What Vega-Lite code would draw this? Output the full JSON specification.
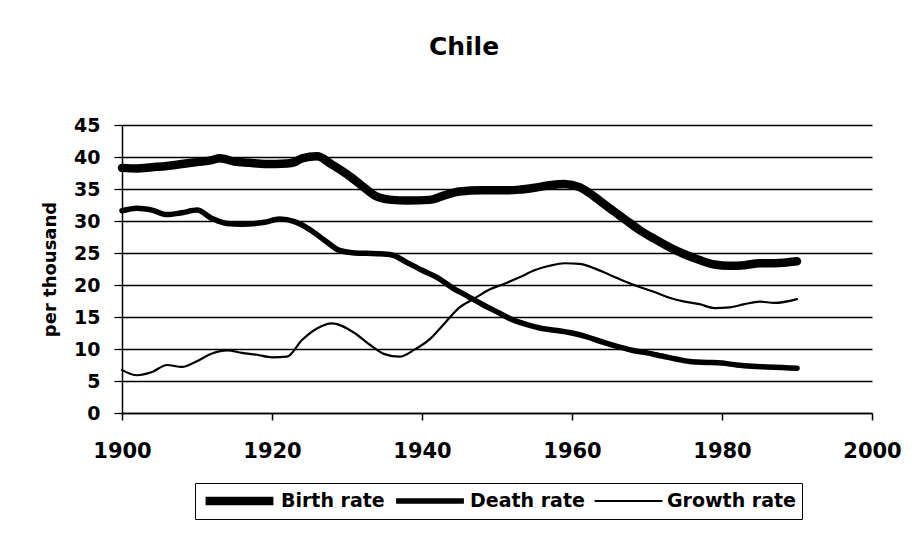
{
  "$schema": "https://vega.github.io/schema/vega-lite/v6.json",
  "width": 750,
  "height": 288,
  "autosize": {"type": "none"},
  "padding": {"left": 122, "top": 125, "right": 43, "bottom": 120},
  "background": "white",
  "title": {
    "text": "Chile",
    "font": "DejaVu Sans",
    "fontSize": 25,
    "fontWeight": "bold",
    "color": "black",
    "anchor": "middle",
    "dx": -33,
    "offset": 56
  },
  "config": {
    "view": {"stroke": null},
    "font": "DejaVu Sans"
  },
  "data": {
    "values": [
      {"year": 1900, "series": "Birth rate", "rate": 38.3},
      {"year": 1902, "series": "Birth rate", "rate": 38.2},
      {"year": 1904, "series": "Birth rate", "rate": 38.4},
      {"year": 1906, "series": "Birth rate", "rate": 38.6},
      {"year": 1908, "series": "Birth rate", "rate": 38.9},
      {"year": 1910, "series": "Birth rate", "rate": 39.2},
      {"year": 1912, "series": "Birth rate", "rate": 39.5},
      {"year": 1913, "series": "Birth rate", "rate": 39.8},
      {"year": 1915, "series": "Birth rate", "rate": 39.3},
      {"year": 1917, "series": "Birth rate", "rate": 39.1},
      {"year": 1919, "series": "Birth rate", "rate": 38.9},
      {"year": 1922, "series": "Birth rate", "rate": 39.0},
      {"year": 1923, "series": "Birth rate", "rate": 39.2},
      {"year": 1924, "series": "Birth rate", "rate": 39.8},
      {"year": 1926, "series": "Birth rate", "rate": 40.1},
      {"year": 1928, "series": "Birth rate", "rate": 38.8},
      {"year": 1930, "series": "Birth rate", "rate": 37.3},
      {"year": 1932, "series": "Birth rate", "rate": 35.5},
      {"year": 1934, "series": "Birth rate", "rate": 33.8},
      {"year": 1936, "series": "Birth rate", "rate": 33.3},
      {"year": 1938, "series": "Birth rate", "rate": 33.2},
      {"year": 1941, "series": "Birth rate", "rate": 33.3},
      {"year": 1943, "series": "Birth rate", "rate": 34.0},
      {"year": 1945, "series": "Birth rate", "rate": 34.6},
      {"year": 1948, "series": "Birth rate", "rate": 34.8},
      {"year": 1951, "series": "Birth rate", "rate": 34.8},
      {"year": 1953, "series": "Birth rate", "rate": 34.9},
      {"year": 1955, "series": "Birth rate", "rate": 35.2},
      {"year": 1957, "series": "Birth rate", "rate": 35.6},
      {"year": 1959, "series": "Birth rate", "rate": 35.8},
      {"year": 1961, "series": "Birth rate", "rate": 35.3},
      {"year": 1963, "series": "Birth rate", "rate": 33.8},
      {"year": 1965, "series": "Birth rate", "rate": 32.0},
      {"year": 1967, "series": "Birth rate", "rate": 30.3},
      {"year": 1969, "series": "Birth rate", "rate": 28.6},
      {"year": 1971, "series": "Birth rate", "rate": 27.2},
      {"year": 1973, "series": "Birth rate", "rate": 25.9},
      {"year": 1975, "series": "Birth rate", "rate": 24.8},
      {"year": 1977, "series": "Birth rate", "rate": 23.9},
      {"year": 1979, "series": "Birth rate", "rate": 23.2},
      {"year": 1981, "series": "Birth rate", "rate": 23.0},
      {"year": 1983, "series": "Birth rate", "rate": 23.1},
      {"year": 1985, "series": "Birth rate", "rate": 23.4},
      {"year": 1987, "series": "Birth rate", "rate": 23.4},
      {"year": 1990, "series": "Birth rate", "rate": 23.7},

      {"year": 1900, "series": "Death rate", "rate": 31.6},
      {"year": 1902, "series": "Death rate", "rate": 32.0},
      {"year": 1904, "series": "Death rate", "rate": 31.7},
      {"year": 1906, "series": "Death rate", "rate": 31.0},
      {"year": 1908, "series": "Death rate", "rate": 31.3},
      {"year": 1910, "series": "Death rate", "rate": 31.7},
      {"year": 1912, "series": "Death rate", "rate": 30.4},
      {"year": 1914, "series": "Death rate", "rate": 29.6},
      {"year": 1916, "series": "Death rate", "rate": 29.5},
      {"year": 1919, "series": "Death rate", "rate": 29.8},
      {"year": 1921, "series": "Death rate", "rate": 30.3},
      {"year": 1923, "series": "Death rate", "rate": 29.9},
      {"year": 1925, "series": "Death rate", "rate": 28.7},
      {"year": 1927, "series": "Death rate", "rate": 27.0},
      {"year": 1929, "series": "Death rate", "rate": 25.4},
      {"year": 1931, "series": "Death rate", "rate": 25.0},
      {"year": 1934, "series": "Death rate", "rate": 24.9},
      {"year": 1936, "series": "Death rate", "rate": 24.7},
      {"year": 1938, "series": "Death rate", "rate": 23.5},
      {"year": 1940, "series": "Death rate", "rate": 22.3},
      {"year": 1942, "series": "Death rate", "rate": 21.2},
      {"year": 1944, "series": "Death rate", "rate": 19.6},
      {"year": 1946, "series": "Death rate", "rate": 18.3},
      {"year": 1948, "series": "Death rate", "rate": 17.0},
      {"year": 1950, "series": "Death rate", "rate": 15.8},
      {"year": 1952, "series": "Death rate", "rate": 14.6},
      {"year": 1954, "series": "Death rate", "rate": 13.8},
      {"year": 1956, "series": "Death rate", "rate": 13.2},
      {"year": 1958, "series": "Death rate", "rate": 12.9},
      {"year": 1960, "series": "Death rate", "rate": 12.5},
      {"year": 1962, "series": "Death rate", "rate": 11.9},
      {"year": 1964, "series": "Death rate", "rate": 11.1},
      {"year": 1966, "series": "Death rate", "rate": 10.4},
      {"year": 1968, "series": "Death rate", "rate": 9.8},
      {"year": 1970, "series": "Death rate", "rate": 9.4},
      {"year": 1972, "series": "Death rate", "rate": 8.9},
      {"year": 1974, "series": "Death rate", "rate": 8.4},
      {"year": 1976, "series": "Death rate", "rate": 8.0},
      {"year": 1978, "series": "Death rate", "rate": 7.9},
      {"year": 1980, "series": "Death rate", "rate": 7.8},
      {"year": 1982, "series": "Death rate", "rate": 7.5},
      {"year": 1984, "series": "Death rate", "rate": 7.3},
      {"year": 1986, "series": "Death rate", "rate": 7.2},
      {"year": 1988, "series": "Death rate", "rate": 7.1},
      {"year": 1990, "series": "Death rate", "rate": 7.0},

      {"year": 1900, "series": "Growth rate", "rate": 6.7},
      {"year": 1902, "series": "Growth rate", "rate": 5.9},
      {"year": 1904, "series": "Growth rate", "rate": 6.4},
      {"year": 1906, "series": "Growth rate", "rate": 7.5},
      {"year": 1908, "series": "Growth rate", "rate": 7.2},
      {"year": 1910, "series": "Growth rate", "rate": 8.1},
      {"year": 1912, "series": "Growth rate", "rate": 9.3},
      {"year": 1914, "series": "Growth rate", "rate": 9.8},
      {"year": 1916, "series": "Growth rate", "rate": 9.4},
      {"year": 1918, "series": "Growth rate", "rate": 9.1},
      {"year": 1920, "series": "Growth rate", "rate": 8.7},
      {"year": 1922, "series": "Growth rate", "rate": 8.8},
      {"year": 1924, "series": "Growth rate", "rate": 11.4},
      {"year": 1926, "series": "Growth rate", "rate": 13.2},
      {"year": 1928, "series": "Growth rate", "rate": 14.0},
      {"year": 1931, "series": "Growth rate", "rate": 12.5},
      {"year": 1933, "series": "Growth rate", "rate": 10.7},
      {"year": 1935, "series": "Growth rate", "rate": 9.2},
      {"year": 1937, "series": "Growth rate", "rate": 8.8},
      {"year": 1939, "series": "Growth rate", "rate": 9.9},
      {"year": 1941, "series": "Growth rate", "rate": 11.5},
      {"year": 1943, "series": "Growth rate", "rate": 14.0},
      {"year": 1945, "series": "Growth rate", "rate": 16.5},
      {"year": 1947, "series": "Growth rate", "rate": 17.9},
      {"year": 1949, "series": "Growth rate", "rate": 19.3},
      {"year": 1951, "series": "Growth rate", "rate": 20.2},
      {"year": 1953, "series": "Growth rate", "rate": 21.2},
      {"year": 1955, "series": "Growth rate", "rate": 22.3},
      {"year": 1957, "series": "Growth rate", "rate": 23.0},
      {"year": 1959, "series": "Growth rate", "rate": 23.4},
      {"year": 1961, "series": "Growth rate", "rate": 23.3},
      {"year": 1963, "series": "Growth rate", "rate": 22.6},
      {"year": 1965, "series": "Growth rate", "rate": 21.6},
      {"year": 1967, "series": "Growth rate", "rate": 20.6},
      {"year": 1969, "series": "Growth rate", "rate": 19.7},
      {"year": 1971, "series": "Growth rate", "rate": 18.9},
      {"year": 1973, "series": "Growth rate", "rate": 18.0},
      {"year": 1975, "series": "Growth rate", "rate": 17.4},
      {"year": 1977, "series": "Growth rate", "rate": 17.0},
      {"year": 1979, "series": "Growth rate", "rate": 16.4},
      {"year": 1981, "series": "Growth rate", "rate": 16.5},
      {"year": 1983, "series": "Growth rate", "rate": 17.0},
      {"year": 1985, "series": "Growth rate", "rate": 17.4},
      {"year": 1987, "series": "Growth rate", "rate": 17.2},
      {"year": 1990, "series": "Growth rate", "rate": 17.8}
    ]
  },
  "mark": {"type": "line", "color": "black", "interpolate": "monotone", "strokeCap": "round", "strokeJoin": "round"},
  "encoding": {
    "x": {
      "field": "year",
      "type": "quantitative",
      "scale": {"domain": [1900, 2000], "nice": false, "zero": false},
      "axis": {
        "title": null,
        "values": [1900, 1920, 1940, 1960, 1980, 2000],
        "format": "d",
        "grid": false,
        "domainColor": "black",
        "domainWidth": 1.5,
        "tickColor": "black",
        "tickWidth": 1.5,
        "tickSize": 7,
        "labelFont": "DejaVu Sans",
        "labelFontWeight": "bold",
        "labelFontSize": 21,
        "labelColor": "black",
        "labelPadding": 20,
        "labelFlush": false,
        "labelOverlap": false
      }
    },
    "y": {
      "field": "rate",
      "type": "quantitative",
      "scale": {"domain": [0, 45], "nice": false},
      "axis": {
        "title": "per thousand",
        "titleFont": "DejaVu Sans",
        "titleFontWeight": "bold",
        "titleFontSize": 18,
        "titleColor": "black",
        "titlePadding": 14,
        "values": [0, 5, 10, 15, 20, 25, 30, 35, 40, 45],
        "grid": true,
        "gridColor": "black",
        "gridWidth": 1.3,
        "gridOpacity": 1,
        "domainColor": "black",
        "domainWidth": 1.5,
        "tickColor": "black",
        "tickWidth": 1.3,
        "tickSize": 8,
        "labelFont": "DejaVu Sans",
        "labelFontWeight": "bold",
        "labelFontSize": 19,
        "labelColor": "black",
        "labelPadding": 14,
        "labelFlush": false,
        "labelOverlap": false
      }
    },
    "strokeWidth": {
      "field": "series",
      "type": "nominal",
      "scale": {"type": "ordinal", "domain": ["Birth rate", "Death rate", "Growth rate"], "range": [8.5, 5.5, 2.2]},
      "legend": {
        "title": null,
        "orient": "none",
        "legendX": 73,
        "legendY": 358,
        "direction": "horizontal",
        "symbolType": "stroke",
        "symbolSize": 4600,
        "clipHeight": 24,
        "symbolStrokeColor": "black",
        "labelFont": "DejaVu Sans",
        "labelFontWeight": "bold",
        "labelFontSize": 19,
        "labelColor": "black",
        "labelOffset": 3,
        "columnPadding": 8,
        "padding": 6,
        "strokeColor": "black"
      }
    }
  }
}
